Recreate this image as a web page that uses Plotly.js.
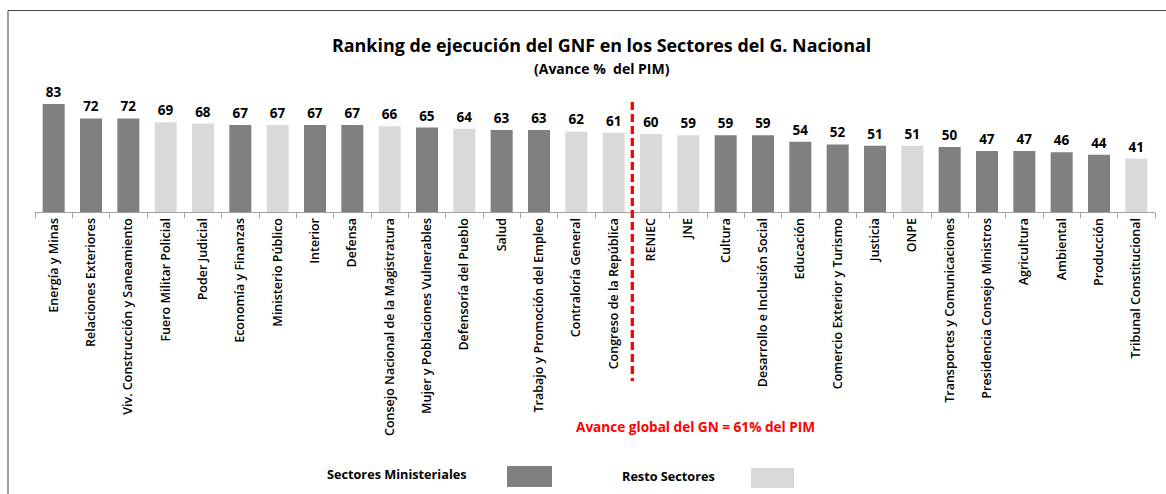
<!DOCTYPE html>
<html>
<head>
<meta charset="utf-8">
<script src="https://cdn.plot.ly/plotly-3.0.1.min.js"></script>
<style>
  html, body { margin: 0; padding: 0; background: #ffffff; }
  #chart { width: 1166px; height: 494px; }
</style>
</head>
<body>
<div id="chart"></div>
<script>
const categories = [
  "Energía y Minas", "Relaciones Exteriores", "Viv. Construcción y Saneamiento",
  "Fuero Militar Policial", "Poder Judicial", "Economía y Finanzas",
  "Ministerio Público", "Interior", "Defensa",
  "Consejo Nacional de la Magistratura", "Mujer y Poblaciones Vulnerables",
  "Defensoría del Pueblo", "Salud", "Trabajo y Promoción del Empleo",
  "Contraloría General", "Congreso de la República", "RENIEC", "JNE",
  "Cultura", "Desarrollo e Inclusión Social", "Educación",
  "Comercio Exterior y Turismo", "Justicia", "ONPE",
  "Transportes y Comunicaciones", "Presidencia Consejo Ministros",
  "Agricultura", "Ambiental", "Producción", "Tribunal Constitucional"
];
const values = [83, 72, 72, 69, 68, 67, 67, 67, 67, 66, 65, 64, 63, 63, 62, 61,
                60, 59, 59, 59, 54, 52, 51, 51, 50, 47, 47, 46, 44, 41];
// M = Sectores Ministeriales, R = Resto Sectores
const groups = ["M","M","M","R","R","M","R","M","M","R","M","R","M","M","R","R",
                "R","R","M","M","M","M","M","R","M","M","M","M","M","R"];
const groupNames = { M: "Sectores Ministeriales", R: "Resto Sectores" };
const globalAvance = 61;
const titleText = "Ranking de ejecución del GNF en los Sectores del G. Nacional";
const subtitleText = "(Avance %\u00a0 del PIM)";
const noteText = "Avance global del GN = " + globalAvance + "% del PIM";

const colorMap = { M: "#808080", R: "#d9d9d9" };
const FONT = "'Open Sans', Lato, sans-serif";

// layout geometry (pixels)
const W = 1166, H = 494;
const mL = 35, mR = 11, mT = 95, mB = 282;
const plotW = W - mL - mR, plotH = H - mT - mB;
const px = v => (v - mL) / plotW;
const py = v => (H - mB - v) / plotH;

// split point: last sector at or above the global average
let split = 0;
values.forEach((v, i) => { if (v >= globalAvance) split = i; });
const n = categories.length;
const splitPaper = (split + 1) / n;

const trace = {
  type: "bar",
  x: categories,
  y: values,
  marker: { color: groups.map(g => colorMap[g]) },
  width: 0.59,
  text: values.map(String),
  textposition: "outside",
  constraintext: "none",
  cliponaxis: false,
  textfont: { family: FONT, size: 13.5, color: "#000000", weight: 700 },
  hoverinfo: "x+y",
  showlegend: false
};

const layout = {
  width: W, height: H,
  margin: { l: mL, r: mR, t: mT, b: mB, pad: 0 },
  paper_bgcolor: "#ffffff",
  plot_bgcolor: "#ffffff",
  showlegend: false,
  font: { family: FONT, color: "#000000" },
  xaxis: {
    type: "category",
    range: [-0.5, n - 0.5],
    tickangle: -90,
    tickfont: { family: FONT, size: 12.5, color: "#000000", weight: 600 },
    ticks: "outside",
    tickson: "boundaries",
    ticklen: 5,
    tickcolor: "#a0a0a0",
    showline: true,
    linecolor: "#a0a0a0",
    linewidth: 1,
    showgrid: false,
    zeroline: false,
    fixedrange: true
  },
  yaxis: {
    range: [0, plotH / 1.3],
    visible: false,
    showgrid: false,
    zeroline: false,
    fixedrange: true
  },
  annotations: [
    { text: "<b>" + titleText + "</b>", xref: "paper", yref: "paper",
      x: px(601), y: py(45), xanchor: "center", yanchor: "middle", showarrow: false,
      font: { family: FONT, size: 17.9, color: "#000000" } },
    { text: "<b>" + subtitleText + "</b>", xref: "paper", yref: "paper",
      x: px(602), y: py(68), xanchor: "center", yanchor: "middle", showarrow: false,
      font: { family: FONT, size: 14, color: "#000000" } },
    { text: "<b>" + noteText + "</b>", xref: "paper", yref: "paper",
      x: px(695), y: py(427), xanchor: "center", yanchor: "middle", showarrow: false,
      font: { family: FONT, size: 13.6, color: "#ff0000" } },
    { text: "<b>" + groupNames.M + "</b>", xref: "paper", yref: "paper",
      x: px(397), y: py(474), xanchor: "center", yanchor: "middle", showarrow: false,
      font: { family: FONT, size: 12.7, color: "#000000" } },
    { text: "<b>" + groupNames.R + "</b>", xref: "paper", yref: "paper",
      x: px(668), y: py(476), xanchor: "center", yanchor: "middle", showarrow: false,
      font: { family: FONT, size: 12.7, color: "#000000" } }
  ],
  shapes: [
    // outer frame
    { type: "rect", xref: "paper", yref: "paper", layer: "below",
      x0: px(8), x1: px(1180), y0: py(10.5), y1: py(510),
      line: { color: "#444444", width: 1 }, fillcolor: "rgba(0,0,0,0)" },
    // global average divider
    { type: "line", xref: "paper", yref: "paper",
      x0: splitPaper, x1: splitPaper, y0: py(102), y1: py(381),
      line: { color: "#ff0000", width: 3.3, dash: "8px,4px" } },
    // legend swatches
    { type: "rect", xref: "paper", yref: "paper",
      x0: px(507), x1: px(552), y0: py(466), y1: py(487),
      line: { width: 0 }, fillcolor: colorMap.M },
    { type: "rect", xref: "paper", yref: "paper",
      x0: px(751), x1: px(794), y0: py(468), y1: py(488),
      line: { width: 0 }, fillcolor: colorMap.R }
  ]
};

Plotly.newPlot("chart", [trace], layout, { displayModeBar: false, staticPlot: true });
</script>
</body>
</html>
